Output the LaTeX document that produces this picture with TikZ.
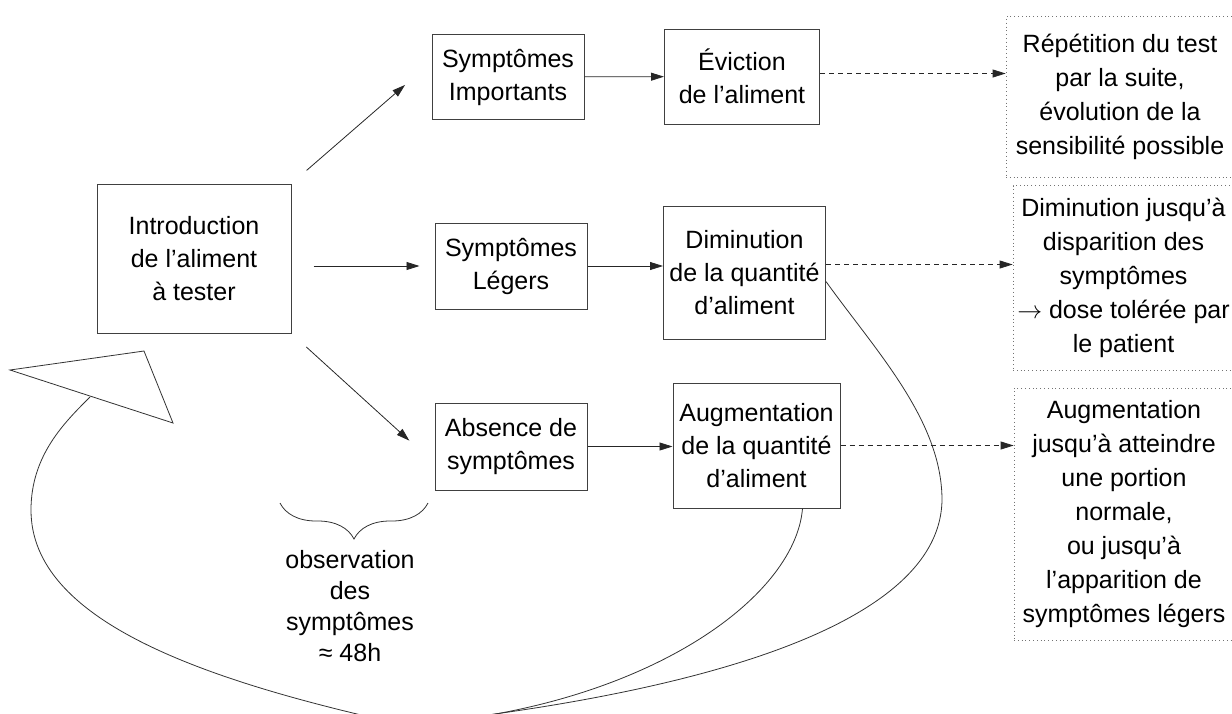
\documentclass[tikz,border=0pt]{standalone}
\usepackage{fontspec}
\setmainfont{Liberation Sans}
\usetikzlibrary{arrows.meta,decorations.pathreplacing}
\tikzset{bx/.append style={draw=black!75,line width=1pt,align=center,inner sep=0pt}}
\tikzset{nt/.append style={draw=black!55,line width=0.8pt,dash pattern=on 0.8pt off 3pt,align=center,inner sep=0pt,font=\fontsize{25}{34}\selectfont}}
\tikzset{arr/.append style={-{Triangle[length=13pt,width=8pt]},line width=0.8pt,draw=black!85}}
\tikzset{dsh/.append style={arr,dash pattern=on 5pt off 4pt}}
\tikzset{lp/.append style={line width=0.8pt,draw=black!80}}

\begin{document}
\begin{tikzpicture}[x=1pt,y=-1pt,every node/.style={font=\fontsize{25}{33}\selectfont}]
                \useasboundingbox (0,0) rectangle (1232,713);
                \clip (0,0) rectangle (1232,713);
                % boxes
                \node[bx,minimum width=194pt,minimum height=149pt] (intro) at (194,258.5) {Introduction\\de l’aliment\\à tester};
                \node[bx,minimum width=152pt,minimum height=85pt] (imp) at (508,77) {Symptômes\\Importants};
                \node[bx,minimum width=155pt,minimum height=95pt] (evic) at (742,76.5) {Éviction\\de l’aliment};
                \node[bx,minimum width=152pt,minimum height=86pt] (leg) at (511,266) {Symptômes\\Légers};
                \node[bx,minimum width=162pt,minimum height=133pt] (dim) at (744.5,272.5) {Diminution\\de la quantité\\d’aliment};
                \node[bx,minimum width=152pt,minimum height=87pt] (abs) at (511,446.5) {Absence de\\symptômes};
                \node[bx,minimum width=167pt,minimum height=125pt] (aug) at (756.5,445.5) {Augmentation\\de la quantité\\d’aliment};
                % issues
                \node[nt,minimum width=228pt,minimum height=161pt] (rep) at (1120,97) {Répétition du test\\par la suite,\\évolution de la\\sensibilité possible};
                \node[nt,minimum width=221pt,minimum height=185pt] (dimR) at (1123.5,278) {Diminution jusqu’à\\disparition des\\symptômes\\$\rightarrow$ dose tolérée par\\le patient};
                \node[nt,minimum width=220pt,minimum height=252pt] (augR) at (1124,514) {Augmentation\\jusqu’à atteindre\\une portion\\normale,\\ou jusqu’à\\l’apparition de\\symptômes légers};
                \path (intro.north east) edge[arr,shorten <=20pt,shorten >=35pt] ([yshift=15pt]imp.west);
                \path (intro.east |- leg.west) edge[arr,shorten <=22pt,shorten >=15pt] (leg.west);
                \path (intro.south east) edge[arr,shorten <=20pt,shorten >=34pt] ([yshift=-17pt]abs.west);
                \path (imp) edge[arr] (evic);
                \path (leg) edge[arr] (leg -| dim.west);
                \path (abs) edge[arr] (abs -| aug.west);
                \path ([yshift=3pt]evic.east) edge[dsh] ([yshift=3pt]evic.east -| rep.west);
                \path ([yshift=8pt]dim.east) edge[dsh] ([yshift=8pt]dim.east -| dimR.west);
                \path (aug.east) edge[dsh] (aug.east -| augR.west);
                % loop back
                \coordinate (meet) at (405,725);
                \draw[lp] ([yshift=-9pt]dim.east) .. controls (875,350) and (942,420) .. (942,500)
                    .. controls (940,640) and (640,700) .. (meet);
                \draw[lp] ([xshift=46pt]aug.south) .. controls (795,600) and (640,710) .. (meet);
                \draw[lp] (meet) .. controls (200,680) and (31,620) .. (31,510)
                    .. controls (31,455) and (65,422) .. (90,397);
                \draw[lp,fill=white] (10,370) -- (144,351) -- (173,423) -- cycle;
                % observation
                \draw[lp,decorate,decoration={brace,amplitude=36pt}] (428,503) -- (280,503);
                \node[align=center,font=\fontsize{25}{31}\selectfont] (obs) at (350,606) {observation\\des\\symptômes\\≈ 48h};
            \end{tikzpicture}
\end{document}
